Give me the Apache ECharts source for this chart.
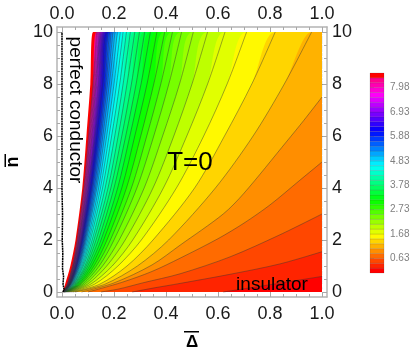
<!DOCTYPE html>
<html>
<head>
<meta charset="utf-8">
<style>
  html, body { margin: 0; padding: 0; background: #fff; }
  #main { width: 415px; height: 357px; }
</style>
<script src="https://cdn.jsdelivr.net/npm/echarts@6/dist/echarts.min.js"></script>
</head>
<body>
<div id="main"></div>
<script>
const xTicks = [0, 0.2, 0.4, 0.6, 0.8, 1];
const xMinorTicks = [0, 0.05, 0.1, 0.15, 0.2, 0.25, 0.3, 0.35, 0.4, 0.45, 0.5, 0.55, 0.6, 0.65, 0.7, 0.75, 0.8, 0.85, 0.9, 0.95, 1];
const yTicks = [0, 2, 4, 6, 8, 10];
const yMinorTicks = [0, 0.5, 1, 1.5, 2, 2.5, 3, 3.5, 4, 4.5, 5, 5.5, 6, 6.5, 7, 7.5, 8, 8.5, 9, 9.5, 10];
const barLabels = [0.63, 1.68, 2.73, 3.78, 4.83, 5.88, 6.93, 7.98];
const barLevels = [0, 0.21, 0.42, 0.63, 0.84, 1.05, 1.26, 1.47, 1.68, 1.89, 2.1, 2.31, 2.52, 2.73, 2.94, 3.15, 3.36, 3.57, 3.78, 3.99, 4.2, 4.41, 4.62, 4.83, 5.04, 5.25, 5.46, 5.67, 5.88, 6.09, 6.3, 6.51, 6.72, 6.93, 7.14, 7.35, 7.56, 7.77, 7.98, 8.19, 8.4, 8.61];

// lowest contours, they run out through the right edge: [delta, n]
const contour1 = [[0.62, 0], [0.8, 0.28], [1, 0.6]];
const contour2 = [[0.27, 0], [0.35, 0.15], [0.454, 0.33], [0.646, 0.68], [0.838, 1.08], [1, 1.55]];
const contour3 = [[0.15, 0], [0.22, 0.12], [0.31, 0.35], [0.454, 0.7], [0.646, 1.35], [0.838, 2.2], [1, 3]];
const contour4 = [[0.1, 0], [0.23, 0.37], [0.346, 0.79], [0.454, 1.3], [0.6, 2.05], [0.7, 2.65], [0.8, 3.35], [0.915, 4.3], [1, 5]];
const contour5 = [[0.075, 0], [0.2, 0.35], [0.346, 1.04], [0.454, 1.8], [0.62, 3], [0.7, 3.8], [0.865, 5.8], [0.93, 6.6], [1, 7.5]];

// the other contours, delta read where each one crosses these n rows
const nRows = [0, 0.3, 1, 2, 4, 6, 8, 10];
const contourRows = [
  [0.05, 0.165, 0.29, 0.41, 0.59, 0.735, 0.855, 0.96],
  [0.042, 0.145, 0.25, 0.35, 0.51, 0.625, 0.73, 0.82],
  [0.036, 0.125, 0.215, 0.305, 0.44, 0.545, 0.635, 0.71],
  [0.03, 0.11, 0.193, 0.272, 0.39, 0.48, 0.56, 0.627],
  [0.026, 0.098, 0.172, 0.243, 0.35, 0.43, 0.5, 0.56],
  [0.023, 0.088, 0.156, 0.22, 0.316, 0.387, 0.452, 0.505],
  [0.02, 0.08, 0.143, 0.2, 0.288, 0.353, 0.411, 0.46],
  [0.018, 0.073, 0.132, 0.186, 0.267, 0.326, 0.38, 0.425],
  [0.016, 0.068, 0.123, 0.173, 0.248, 0.303, 0.353, 0.395],
  [0.014, 0.063, 0.114, 0.16, 0.23, 0.28, 0.327, 0.365],
  [0.013, 0.058, 0.106, 0.15, 0.214, 0.261, 0.304, 0.34],
  [0.012, 0.054, 0.099, 0.14, 0.2, 0.245, 0.285, 0.318],
  [0.011, 0.05, 0.093, 0.131, 0.188, 0.23, 0.267, 0.298],
  [0.01, 0.047, 0.088, 0.123, 0.177, 0.216, 0.25, 0.28],
  [0.009, 0.044, 0.082, 0.116, 0.166, 0.203, 0.235, 0.263],
  [0.009, 0.042, 0.078, 0.109, 0.156, 0.191, 0.222, 0.248],
  [0.008, 0.04, 0.074, 0.104, 0.148, 0.181, 0.21, 0.235],
  [0.008, 0.038, 0.07, 0.099, 0.141, 0.172, 0.2, 0.224],
  [0.007, 0.036, 0.067, 0.094, 0.134, 0.164, 0.19, 0.213],
  [0.007, 0.034, 0.064, 0.09, 0.129, 0.157, 0.182, 0.204],
  [0.007, 0.033, 0.062, 0.087, 0.124, 0.151, 0.175, 0.196],
  [0.006, 0.032, 0.059, 0.084, 0.119, 0.146, 0.169, 0.189],
  [0.006, 0.031, 0.057, 0.081, 0.115, 0.141, 0.164, 0.183],
  [0.006, 0.03, 0.055, 0.078, 0.112, 0.136, 0.158, 0.177],
  [0.006, 0.029, 0.054, 0.076, 0.108, 0.132, 0.154, 0.172],
  [0.005, 0.028, 0.052, 0.074, 0.105, 0.128, 0.149, 0.167],
  [0.005, 0.027, 0.05, 0.072, 0.102, 0.125, 0.145, 0.162],
  [0.005, 0.026, 0.049, 0.07, 0.1, 0.122, 0.141, 0.158],
  [0.005, 0.026, 0.048, 0.068, 0.097, 0.118, 0.138, 0.154],
  [0.005, 0.025, 0.046, 0.066, 0.095, 0.115, 0.134, 0.15],
  [0.004, 0.024, 0.045, 0.065, 0.093, 0.113, 0.131, 0.147],
  [0.004, 0.023, 0.044, 0.064, 0.091, 0.11, 0.129, 0.144],
  [0.004, 0.022, 0.043, 0.062, 0.089, 0.108, 0.126, 0.141],
  [0.004, 0.021, 0.042, 0.06, 0.086, 0.105, 0.122, 0.137],
  [0.004, 0.02, 0.04, 0.058, 0.084, 0.102, 0.119, 0.133]
];
// where the filled region stops and the white starts
const whiteEdge = [0.003, 0.012, 0.032, 0.052, 0.078, 0.094, 0.109, 0.12];
// the black trace along delta = 0
const blackTrace = [[0.004, 0], [0.008, 0.1], [0.004, 0.3], [0.006, 0.6], [0.002, 0.9], [0.003, 1.5], [0.001, 2], [0.002, 3], [0, 4], [0, 10]];

const FONT = '"Liberation Sans", Arial, sans-serif';

function hueColor(h) {
  const seg = h * 6, i = Math.floor(seg), f = seg - i;
  const rgb = [[1, f, 0], [1 - f, 1, 0], [0, 1, f], [0, 1 - f, 1], [f, 0, 1], [1, 0, 1 - f]][i % 6];
  return 'rgb(' + rgb.map(c => Math.round(c * 255)).join(',') + ')';
}

// band 0 is the lowest, the top one jumps back to plain red
function bandColor(b) {
  return b >= 40 ? 'rgb(255,0,0)' : hueColor(b / 43);
}

function rowsToContour(rows) {
  return rows.map((d, i) => [d, nRows[i]]);
}

const contours = [contour1, contour2, contour3, contour4, contour5].concat(contourRows.map(rowsToContour));

// fill under a contour, carried on along the top edge when it leaves through n = 10
function fillSeries(data, band) {
  const last = data[data.length - 1];
  return {
    type: 'line',
    data: last[0] < 1 ? data.concat([[1, 10]]) : data,
    showSymbol: false,
    silent: true,
    smooth: 0.3,
    lineStyle: { width: 0 },
    areaStyle: { color: bandColor(band), opacity: 1 }
  };
}

function strokeSeries(data) {
  return {
    type: 'line',
    data: data,
    z: 3,
    showSymbol: false,
    silent: true,
    smooth: 0.3,
    lineStyle: { color: 'rgba(50,50,50,0.55)', width: 0.8 }
  };
}

const series = [fillSeries(rowsToContour(whiteEdge), 40)];
for (let k = contours.length; k >= 1; k--) {
  series.push(fillSeries(contours[k - 1], k - 1));
}
contours.forEach(c => series.push(strokeSeries(c)));
series.push({
  type: 'line',
  data: blackTrace,
  z: 4,
  showSymbol: false,
  silent: true,
  lineStyle: { color: '#000', width: 1.5, type: [2, 0.5] }
});
series.push({
  type: 'custom',
  xAxisIndex: 4,
  yAxisIndex: 4,
  silent: true,
  data: barLevels.slice(0, -1).map((v, i) => [v, barLevels[i + 1], i]),
  renderItem: function (params, api) {
    const a = api.coord([0, api.value(0)]);
    const b = api.coord([1, api.value(1)]);
    return {
      type: 'rect',
      shape: { x: a[0], y: b[1], width: b[0] - a[0], height: a[1] - b[1] },
      style: { fill: bandColor(api.value(2)), stroke: 'rgba(60,60,60,0.3)', lineWidth: 0.5 }
    };
  }
});

function frameAxis(position, ticks, margin, length, fmt) {
  const horizontal = position === 'bottom' || position === 'top';
  const withLabels = margin !== null;
  return {
    type: 'value',
    gridIndex: 0,
    position: position,
    min: horizontal ? -0.0192 : -0.192,
    max: horizontal ? 1.0192 : 10.192,
    splitLine: { show: false },
    axisLine: { show: withLabels, onZero: false, lineStyle: { color: '#b4b4b4', width: 1.5 } },
    axisTick: { show: true, inside: true, length: length, customValues: ticks, lineStyle: { color: '#a8a8a8', width: 1 } },
    axisLabel: {
      show: withLabels,
      customValues: ticks,
      formatter: fmt,
      color: '#1a1a1a',
      fontFamily: FONT,
      fontSize: 18,
      margin: margin || 0,
      showMinLabel: true,
      showMaxLabel: true
    }
  };
}

const fmtX = v => v.toFixed(1);
const fmtY = v => String(v);

const xAxes = [
  Object.assign(frameAxis('bottom', xTicks, 8, 5, fmtX), {
    name: 'Δ',
    nameLocation: 'middle',
    nameGap: 37,
    nameTextStyle: { fontFamily: FONT, fontWeight: 'bold', fontSize: 17, color: '#000' }
  }),
  frameAxis('top', xTicks, 4, 5, fmtX),
  frameAxis('bottom', xMinorTicks, null, 3, fmtX),
  frameAxis('top', xMinorTicks, null, 3, fmtX),
  { type: 'value', gridIndex: 1, min: 0, max: 1, show: false }
];
const yAxes = [
  Object.assign(frameAxis('left', yTicks, 4, 5, fmtY), {
    name: 'n',
    nameLocation: 'middle',
    nameGap: 34,
    nameRotate: 90,
    nameTextStyle: { fontFamily: FONT, fontWeight: 'bold', fontSize: 18, color: '#000' }
  }),
  frameAxis('right', yTicks, 5, 5, fmtY),
  frameAxis('left', yMinorTicks, null, 3, fmtY),
  frameAxis('right', yMinorTicks, null, 3, fmtY),
  {
    type: 'value',
    gridIndex: 1,
    position: 'right',
    min: 0,
    max: 8.61,
    splitLine: { show: false },
    axisLine: { show: false },
    axisTick: { show: true, length: 4, customValues: barLabels, lineStyle: { color: '#c8c8c8', width: 1 } },
    axisLabel: { customValues: barLabels, formatter: v => v.toFixed(2), color: '#808080', fontFamily: FONT, fontSize: 10, margin: 6 }
  }
];

const myChart = echarts.init(document.getElementById('main'), null, { renderer: 'canvas' });
myChart.setOption({
  animation: false,
  backgroundColor: '#fff',
  grid: [
    { left: 57, right: 88, top: 27, bottom: 60, outerBoundsMode: 'none' },
    { left: 370, right: 31, top: 73, bottom: 84, outerBoundsMode: 'none' }
  ],
  xAxis: xAxes,
  yAxis: yAxes,
  series: series,
  graphic: [
    { type: 'text', x: 75, y: 110, rotation: -Math.PI / 2, z: 100, style: { text: 'perfect conductor', font: '19px ' + FONT, fill: '#000', textAlign: 'center', textVerticalAlign: 'middle' } },
    { type: 'text', x: 190, y: 163, z: 100, style: { text: 'T=0', font: '26px ' + FONT, fill: '#000', textAlign: 'center', textVerticalAlign: 'middle' } },
    { type: 'text', x: 272, y: 285, z: 100, style: { text: 'insulator', font: '19px ' + FONT, fill: '#000', textAlign: 'center', textVerticalAlign: 'middle' } },
    { type: 'rect', z: 100, shape: { x: 184, y: 331, width: 15, height: 1.5 }, style: { fill: '#000' } },
    { type: 'rect', z: 100, shape: { x: 4.5, y: 154, width: 1.5, height: 13 }, style: { fill: '#000' } }
  ]
});
</script>
</body>
</html>
